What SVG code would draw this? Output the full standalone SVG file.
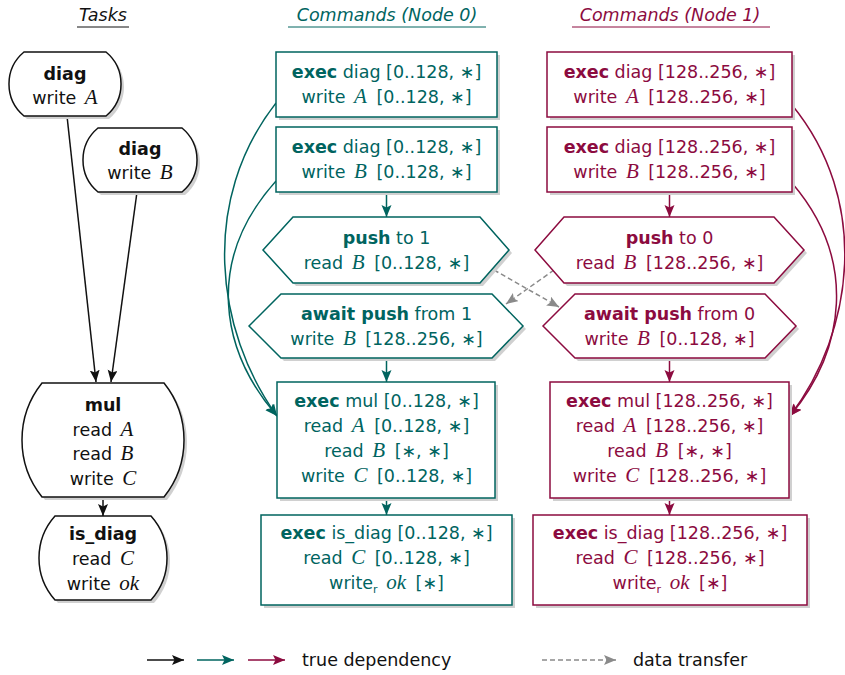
<svg xmlns="http://www.w3.org/2000/svg" width="845" height="675" viewBox="0 0 845 675">
<style>
.t{font-family:"DejaVu Sans","Liberation Sans",sans-serif;font-size:17.5px;text-anchor:middle}
.h{font-family:"DejaVu Sans","Liberation Sans",sans-serif;font-size:17.5px;font-style:italic;text-anchor:middle}
.lg{font-family:"DejaVu Sans","Liberation Sans",sans-serif;font-size:17.5px;fill:#111}
.b{font-weight:bold}
.m{font-family:"Liberation Serif","DejaVu Serif",serif;font-style:italic;font-size:21px}
.k{fill:#111}
.c0{fill:#00645f}
.c1{fill:#8c0b3f}
.sh{fill:#d0d0d0;stroke:none}
.nk{fill:#fff;stroke:#111;stroke-width:1.5}
.n0{fill:#fff;stroke:#00645f;stroke-width:1.5}
.n1{fill:#fff;stroke:#8c0b3f;stroke-width:1.5}
.ek{fill:none;stroke:#111;stroke-width:1.5}
.e0{fill:none;stroke:#00645f;stroke-width:1.5}
.e1{fill:none;stroke:#8c0b3f;stroke-width:1.5}
.eg{fill:none;stroke:#8a8a8a;stroke-width:1.5;stroke-dasharray:5,3}
</style>
<defs>
<marker id="ak" markerUnits="userSpaceOnUse" markerWidth="14" markerHeight="12" refX="12" refY="5" orient="auto"><path d="M0,0 L12,5 L0,10 L2.5,5 Z" fill="#111"/></marker>
<marker id="a0" markerUnits="userSpaceOnUse" markerWidth="14" markerHeight="12" refX="12" refY="5" orient="auto"><path d="M0,0 L12,5 L0,10 L2.5,5 Z" fill="#00645f"/></marker>
<marker id="a1" markerUnits="userSpaceOnUse" markerWidth="14" markerHeight="12" refX="12" refY="5" orient="auto"><path d="M0,0 L12,5 L0,10 L2.5,5 Z" fill="#8c0b3f"/></marker>
<marker id="ag" markerUnits="userSpaceOnUse" markerWidth="14" markerHeight="12" refX="12" refY="5" orient="auto"><path d="M0,0 L12,5 L0,10 L2.5,5 Z" fill="#8a8a8a"/></marker>
</defs>

<g id="headers">
<text class="h k" x="103" y="21">Tasks</text>
<line x1="77" y1="27" x2="129" y2="27" stroke="#111" stroke-width="1"/>
<text class="h c0" x="387" y="21">Commands (Node 0)</text>
<line x1="288" y1="27" x2="486" y2="27" stroke="#00645f" stroke-width="1"/>
<text class="h c1" x="670" y="21">Commands (Node 1)</text>
<line x1="572" y1="27" x2="770" y2="27" stroke="#8c0b3f" stroke-width="1"/>
</g>

<g id="connectors">
<path class="ek" d="M67,116 L96,382" marker-end="url(#ak)"/>
<path class="ek" d="M137,192 L111,382" marker-end="url(#ak)"/>
<path class="ek" d="M103,497 L103,516" marker-end="url(#ak)"/>
<path class="e0" d="M386.5,192 L386.5,217" marker-end="url(#a0)"/>
<path class="e0" d="M386.5,358 L386.5,382" marker-end="url(#a0)"/>
<path class="e0" d="M386.5,498 L386.5,515" marker-end="url(#a0)"/>
<path class="e0" d="M276,103 C200,200 215,330 277,416" marker-end="url(#a0)"/>
<path class="e0" d="M276,181 C205,260 220,350 277,416" marker-end="url(#a0)"/>
<path class="e1" d="M669.5,192 L669.5,217" marker-end="url(#a1)"/>
<path class="e1" d="M669.5,358 L669.5,382" marker-end="url(#a1)"/>
<path class="e1" d="M669.5,498 L669.5,515" marker-end="url(#a1)"/>
<path class="e1" d="M792,105 C870,200 855,330 790,416" marker-end="url(#a1)"/>
<path class="e1" d="M792,183 C858,260 845,350 790,416" marker-end="url(#a1)"/>
<path class="eg" d="M494,270 L559,307" marker-end="url(#ag)"/>
<path class="eg" d="M554,270 L506,304" marker-end="url(#ag)"/>
</g>

<g id="task-diag-a">
<path class="sh" transform="translate(3,3)" d="M24,52 H106 A41.6,41.6 0 0 1 106,116 H24 A41.6,41.6 0 0 1 24,52 Z"/>
<path class="nk" d="M24,52 H106 A41.6,41.6 0 0 1 106,116 H24 A41.6,41.6 0 0 1 24,52 Z"/>
<text class="t k" x="65" y="80"><tspan class="b">diag</tspan></text>
<text class="t k" x="65" y="104">write <tspan class="m" dx="3">A</tspan></text>
</g>
<g id="task-diag-b">
<path class="sh" transform="translate(3,3)" d="M98,128 H182 A41.6,41.6 0 0 1 182,192 H98 A41.6,41.6 0 0 1 98,128 Z"/>
<path class="nk" d="M98,128 H182 A41.6,41.6 0 0 1 182,192 H98 A41.6,41.6 0 0 1 98,128 Z"/>
<text class="t k" x="140" y="155"><tspan class="b">diag</tspan></text>
<text class="t k" x="140" y="179">write <tspan class="m" dx="3">B</tspan></text>
</g>
<g id="task-mul">
<path class="sh" transform="translate(3,3)" d="M42,383 H164 A91.2,91.2 0 0 1 164,497 H42 A91.2,91.2 0 0 1 42,383 Z"/>
<path class="nk" d="M42,383 H164 A91.2,91.2 0 0 1 164,497 H42 A91.2,91.2 0 0 1 42,383 Z"/>
<text class="t k" x="103" y="411"><tspan class="b">mul</tspan></text>
<text class="t k" x="103" y="435.5">read <tspan class="m" dx="3">A</tspan></text>
<text class="t k" x="103" y="460">read <tspan class="m" dx="3">B</tspan></text>
<text class="t k" x="103" y="484.5">write <tspan class="m" dx="3">C</tspan></text>
</g>
<g id="task-is-diag">
<path class="sh" transform="translate(3,3)" d="M55,516 H151 A63.1,63.1 0 0 1 151,600 H55 A63.1,63.1 0 0 1 55,516 Z"/>
<path class="nk" d="M55,516 H151 A63.1,63.1 0 0 1 151,600 H55 A63.1,63.1 0 0 1 55,516 Z"/>
<text class="t k" x="103" y="540"><tspan class="b">is_diag</tspan></text>
<text class="t k" x="103" y="565">read <tspan class="m" dx="3">C</tspan></text>
<text class="t k" x="103" y="590">write <tspan class="m" dx="3">ok</tspan></text>
</g>

<g id="n0-diag-a">
<rect class="sh" x="279" y="55" width="221" height="65"/>
<rect class="n0" x="276" y="52" width="221" height="65"/>
<text class="t c0" x="386.5" y="77.5"><tspan class="b">exec</tspan> diag [0..128, ∗]</text>
<text class="t c0" x="386.5" y="102.5">write <tspan class="m" dx="3">A</tspan><tspan dx="4"> [0..128, ∗]</tspan></text>
</g>
<g id="n0-diag-b">
<rect class="sh" x="279" y="130" width="221" height="65"/>
<rect class="n0" x="276" y="127" width="221" height="65"/>
<text class="t c0" x="386.5" y="152.5"><tspan class="b">exec</tspan> diag [0..128, ∗]</text>
<text class="t c0" x="386.5" y="177.5">write <tspan class="m" dx="3">B</tspan><tspan dx="4"> [0..128, ∗]</tspan></text>
</g>
<g id="n0-push">
<path class="sh" transform="translate(3,3)" d="M263,250 L293,217 H480 L509,250 L480,283 H293 Z"/>
<path class="n0" d="M263,250 L293,217 H480 L509,250 L480,283 H293 Z"/>
<text class="t c0" x="386.5" y="243.5"><tspan class="b">push</tspan> to 1</text>
<text class="t c0" x="386.5" y="269">read <tspan class="m" dx="3">B</tspan><tspan dx="4"> [0..128, ∗]</tspan></text>
</g>
<g id="n0-await">
<path class="sh" transform="translate(3,3)" d="M249,326 L281,294 H492 L523,326 L492,358 H281 Z"/>
<path class="n0" d="M249,326 L281,294 H492 L523,326 L492,358 H281 Z"/>
<text class="t c0" x="386.5" y="319.5"><tspan class="b">await push</tspan> from 1</text>
<text class="t c0" x="386.5" y="344.5">write <tspan class="m" dx="3">B</tspan><tspan dx="4"> [128..256, ∗]</tspan></text>
</g>
<g id="n0-mul">
<rect class="sh" x="280" y="385" width="218" height="116"/>
<rect class="n0" x="277" y="382" width="218" height="116"/>
<text class="t c0" x="386.5" y="407"><tspan class="b">exec</tspan> mul [0..128, ∗]</text>
<text class="t c0" x="386.5" y="432">read <tspan class="m" dx="3">A</tspan><tspan dx="4"> [0..128, ∗]</tspan></text>
<text class="t c0" x="386.5" y="457">read <tspan class="m" dx="3">B</tspan><tspan dx="4"> [∗, ∗]</tspan></text>
<text class="t c0" x="386.5" y="482">write <tspan class="m" dx="3">C</tspan><tspan dx="4"> [0..128, ∗]</tspan></text>
</g>
<g id="n0-is-diag">
<rect class="sh" x="264" y="518" width="251" height="90"/>
<rect class="n0" x="261" y="515" width="251" height="90"/>
<text class="t c0" x="386.5" y="539"><tspan class="b">exec</tspan> is_diag [0..128, ∗]</text>
<text class="t c0" x="386.5" y="564">read <tspan class="m" dx="3">C</tspan><tspan dx="4"> [0..128, ∗]</tspan></text>
<text class="t c0" x="386.5" y="589">write<tspan font-size="11" dy="4">r</tspan><tspan dy="-4"> </tspan><tspan class="m" dx="3">ok</tspan><tspan dx="4"> [∗]</tspan></text>
</g>

<g id="n1-diag-a">
<rect class="sh" x="550" y="55" width="245" height="65"/>
<rect class="n1" x="547" y="52" width="245" height="65"/>
<text class="t c1" x="669.5" y="77.5"><tspan class="b">exec</tspan> diag [128..256, ∗]</text>
<text class="t c1" x="669.5" y="102.5">write <tspan class="m" dx="3">A</tspan><tspan dx="4"> [128..256, ∗]</tspan></text>
</g>
<g id="n1-diag-b">
<rect class="sh" x="550" y="130" width="245" height="65"/>
<rect class="n1" x="547" y="127" width="245" height="65"/>
<text class="t c1" x="669.5" y="152.5"><tspan class="b">exec</tspan> diag [128..256, ∗]</text>
<text class="t c1" x="669.5" y="177.5">write <tspan class="m" dx="3">B</tspan><tspan dx="4"> [128..256, ∗]</tspan></text>
</g>
<g id="n1-push">
<path class="sh" transform="translate(3,3)" d="M535,250 L564,217 H774 L804,250 L774,283 H564 Z"/>
<path class="n1" d="M535,250 L564,217 H774 L804,250 L774,283 H564 Z"/>
<text class="t c1" x="669.5" y="243.5"><tspan class="b">push</tspan> to 0</text>
<text class="t c1" x="669.5" y="269">read <tspan class="m" dx="3">B</tspan><tspan dx="4"> [128..256, ∗]</tspan></text>
</g>
<g id="n1-await">
<path class="sh" transform="translate(3,3)" d="M543,326 L575,294 H765 L796,326 L765,358 H575 Z"/>
<path class="n1" d="M543,326 L575,294 H765 L796,326 L765,358 H575 Z"/>
<text class="t c1" x="669.5" y="319.5"><tspan class="b">await push</tspan> from 0</text>
<text class="t c1" x="669.5" y="344.5">write <tspan class="m" dx="3">B</tspan><tspan dx="4"> [0..128, ∗]</tspan></text>
</g>
<g id="n1-mul">
<rect class="sh" x="553" y="385" width="239" height="116"/>
<rect class="n1" x="550" y="382" width="239" height="116"/>
<text class="t c1" x="669.5" y="407"><tspan class="b">exec</tspan> mul [128..256, ∗]</text>
<text class="t c1" x="669.5" y="432">read <tspan class="m" dx="3">A</tspan><tspan dx="4"> [128..256, ∗]</tspan></text>
<text class="t c1" x="669.5" y="457">read <tspan class="m" dx="3">B</tspan><tspan dx="4"> [∗, ∗]</tspan></text>
<text class="t c1" x="669.5" y="482">write <tspan class="m" dx="3">C</tspan><tspan dx="4"> [128..256, ∗]</tspan></text>
</g>
<g id="n1-is-diag">
<rect class="sh" x="536" y="518" width="274" height="90"/>
<rect class="n1" x="533" y="515" width="274" height="90"/>
<text class="t c1" x="670" y="539"><tspan class="b">exec</tspan> is_diag [128..256, ∗]</text>
<text class="t c1" x="670" y="564">read <tspan class="m" dx="3">C</tspan><tspan dx="4"> [128..256, ∗]</tspan></text>
<text class="t c1" x="670" y="589">write<tspan font-size="11" dy="4">r</tspan><tspan dy="-4"> </tspan><tspan class="m" dx="3">ok</tspan><tspan dx="4"> [∗]</tspan></text>
</g>

<g id="legend">
<path class="ek" d="M147,660 L184,660" marker-end="url(#ak)"/>
<path class="e0" d="M197,660 L234,660" marker-end="url(#a0)"/>
<path class="e1" d="M248,660 L285,660" marker-end="url(#a1)"/>
<text class="lg" x="302" y="666">true dependency</text>
<path class="eg" d="M542,660 L616,660" marker-end="url(#ag)"/>
<text class="lg" x="633" y="666">data transfer</text>
</g>
</svg>
